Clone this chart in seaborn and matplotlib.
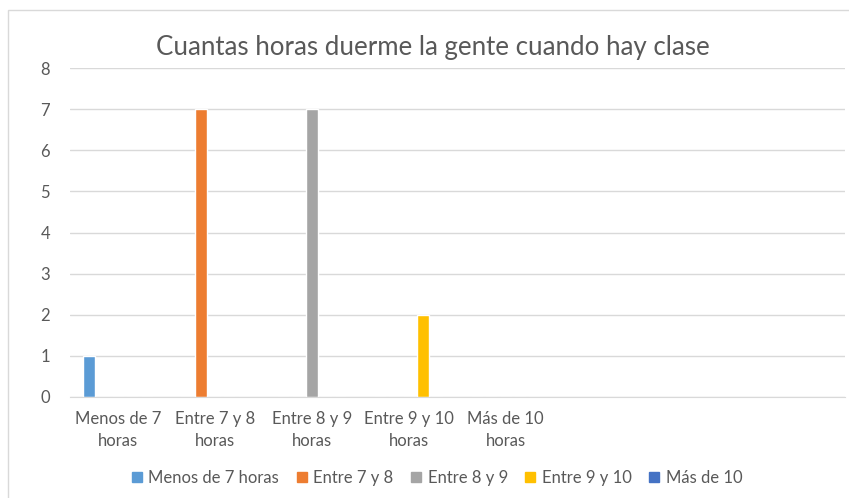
import matplotlib.pyplot as plt
import matplotlib.patches as mpatches
import pandas as pd
import seaborn as sns

# categories on the x axis (last three slots are empty in the original)
categories = ["Menos de 7\nhoras", "Entre 7 y 8\nhoras", "Entre 8 y 9\nhoras",
              "Entre 9 y 10\nhoras", "Más de 10\nhoras"]
empty_slots = [" ", "  ", "   "]
series = ["Menos de 7 horas", "Entre 7 y 8", "Entre 8 y 9", "Entre 9 y 10", "Más de 10"]
counts = [1, 7, 7, 2, 0]
colors = ["#5B9BD5", "#ED7D31", "#A5A5A5", "#FFC000", "#4472C4"]

# each series only has a value in its own category
rows = []
for i, cat in enumerate(categories):
    for j, s in enumerate(series):
        rows.append({"cat": cat, "serie": s, "n": counts[i] if i == j else 0})
df = pd.DataFrame(rows)

sns.set_style("white")
plt.rcParams['font.family'] = ['Lato', 'DejaVu Sans']
text_color = "#595959"
grid_color = "#D9D9D9"

fig = plt.figure(figsize=(8.49, 4.98), dpi=100)
ax = fig.add_axes([0.082, 0.203, 0.913, 0.66])

sns.barplot(data=df, x="cat", y="n", hue="serie", order=categories + empty_slots,
            hue_order=series, palette=colors, width=0.74, gap=0.17,
            saturation=1, ax=ax, legend=False)

ax.set_ylim(0, 8)
ax.set_yticks(range(0, 9))
ax.set_xlim(-0.5, len(categories) + len(empty_slots) - 0.5)
ax.yaxis.grid(True, color=grid_color, linewidth=1)
ax.set_axisbelow(True)
for sp in ["top", "right", "left"]:
    ax.spines[sp].set_visible(False)
ax.spines["bottom"].set_color(grid_color)
ax.tick_params(axis="both", length=0, colors=text_color, labelsize=12)
ax.tick_params(axis="y", pad=14)
ax.tick_params(axis="x", pad=10)
for lab in ax.get_xticklabels():
    lab.set_linespacing(1.45)
ax.set_xlabel("")
ax.set_ylabel("")

fig.suptitle("Cuantas horas duerme la gente cuando hay clase", x=0.51, y=0.93,
             fontsize=18.6, color=text_color)

handles = [mpatches.Patch(color=c, label=s) for c, s in zip(colors, series)]
fig.legend(handles=handles, loc="center", bbox_to_anchor=(0.515, 0.04), ncol=5,
           frameon=False, fontsize=12, labelcolor=text_color, handlelength=0.6,
           handleheight=0.6, handletextpad=0.4, columnspacing=1.05)

# light chart frame
fig.patches.append(mpatches.Rectangle((8 / 849, -0.01), 1.0, 1 - 10 / 498 + 0.01,
                                      transform=fig.transFigure, fill=False,
                                      edgecolor=grid_color, linewidth=1))

fig.savefig("out.png", dpi=100)
